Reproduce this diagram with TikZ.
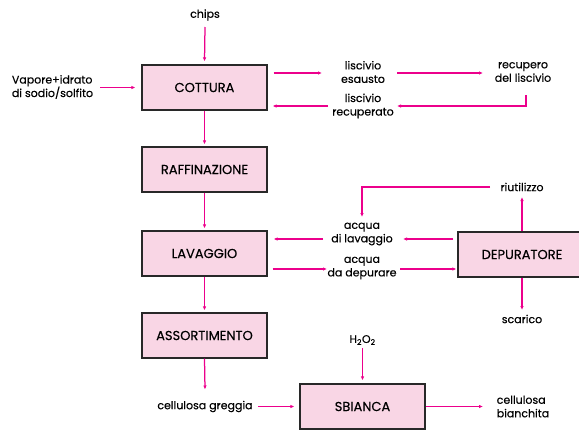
\documentclass[tikz,border=0pt]{standalone}
\usepackage{fontspec}
\setmainfont{Poppins}[FakeBold=0.35]
\usetikzlibrary{arrows.meta}
\definecolor{boxfill}{RGB}{249,214,229}
\definecolor{mag}{RGB}{236,0,140}
\definecolor{edge}{RGB}{40,40,40}
\begin{document}
\begin{tikzpicture}[x=1pt,y=-1pt,
  box/.style={draw=edge,fill=boxfill,line width=1.2pt,minimum width=125pt,minimum height=45pt,inner sep=0pt,font=\fontsize{13}{15}\selectfont},
  lbl/.style={inner sep=0pt,align=center,font=\fontsize{11}{13.5}\selectfont},
  arr/.style={draw=mag,line width=1.25pt,-{Latex[length=4pt,width=3.5pt]}}]
\useasboundingbox (0,0) rectangle (579,429);
\clip (0,0) rectangle (579,429);
% boxes
\node[box] (cot) at (204.5,87.5) {COTTURA};
\node[box] (raf) at (204.5,169.5) {RAFFINAZIONE};
\node[box] (lav) at (204.5,253.5) {LAVAGGIO};
\node[box] (ass) at (204.5,335.5) {ASSORTIMENTO};
\node[box] (sbi) at (362.5,406.5) {SBIANCA};
\node[box,minimum width=128pt] (dep) at (522,254.5) {DEPURATORE};
% labels
\node[lbl] (chips) at (205,15) {chips};
\node[lbl,align=left] (vap) at (52.5,87) {Vapore+idrato\\di sodio/solfito};
\node[lbl] (lese) at (363,72) {liscivio\\esausto};
\node[lbl] (rec) at (523,72) {recupero\\del liscivio};
\node[lbl] (lrec) at (363,106) {liscivio\\recuperato};
\node[lbl] (riu) at (522,187) {riutilizzo};
\node[lbl] (alav) at (362,234) {acqua\\di lavaggio};
\node[lbl] (adep) at (362,268) {acqua\\da depurare};
\node[lbl] (sca) at (522,319) {scarico};
\node[lbl] (h2o2) at (362.5,340) {H\textsubscript{2}O\textsubscript{2}};
\node[lbl] (cg) at (205,406.5) {cellulosa greggia};
\node[lbl,align=left] (cb) at (523,406.5) {cellulosa\\bianchita};
% connectors
\draw[arr] ([shift={(0,12)}]chips.center) -- ([shift={(0,-3)}]cot.north);
\draw[arr] ([shift={(47.5,0.5)}]vap.center) -- ([shift={(-6,0)}]cot.west);
\draw[arr] ([shift={(6,-14.5)}]cot.east) -- ([shift={(-41,1)}]lese.center);
\draw[arr] ([shift={(34,1)}]lese.center) -- ([shift={(-40,1)}]rec.center);
\draw[arr] ([shift={(3,23)}]rec.center) |- ([shift={(34,0)}]lrec.center);
\draw[arr] ([shift={(-35,0)}]lrec.center) -- ([shift={(5,18.5)}]cot.east);
\draw[arr] (cot.south) -- ([shift={(0,-2)}]raf.north);
\draw[arr] (raf.south) -- ([shift={(0,-2)}]lav.north);
\draw[arr] (lav.south) -- ([shift={(0,-2)}]ass.north);
\draw[arr] (ass.south) -- ([shift={(0,-17)}]cg.center);
\draw[arr] ([shift={(53,0)}]cg.center) -- ([shift={(-5,0)}]sbi.west);
\draw[arr] ([shift={(0,8)}]h2o2.center) -- ([shift={(0,-3)}]sbi.north);
\draw[arr] (sbi.east) -- ([shift={(-40,0)}]cb.center);
\draw[arr] ([shift={(-32,0)}]riu.center) -| ([shift={(0,-17)}]alav.center);
\draw[arr] ([shift={(-4,-15.5)}]dep.west) -- ([shift={(41,5)}]alav.center);
\draw[arr] ([shift={(-39,5)}]alav.center) -- ([shift={(6,-14.5)}]lav.east);
\draw[arr] ([shift={(5,15.5)}]lav.east) -- ([shift={(-35,1)}]adep.center);
\draw[arr] ([shift={(38,1)}]adep.center) -- ([shift={(-1,14.5)}]dep.west);
\draw[arr] (dep.north) -- ([shift={(0,10)}]riu.center);
\draw[arr] (dep.south) -- ([shift={(0,-9)}]sca.center);
\end{tikzpicture}
\end{document}
